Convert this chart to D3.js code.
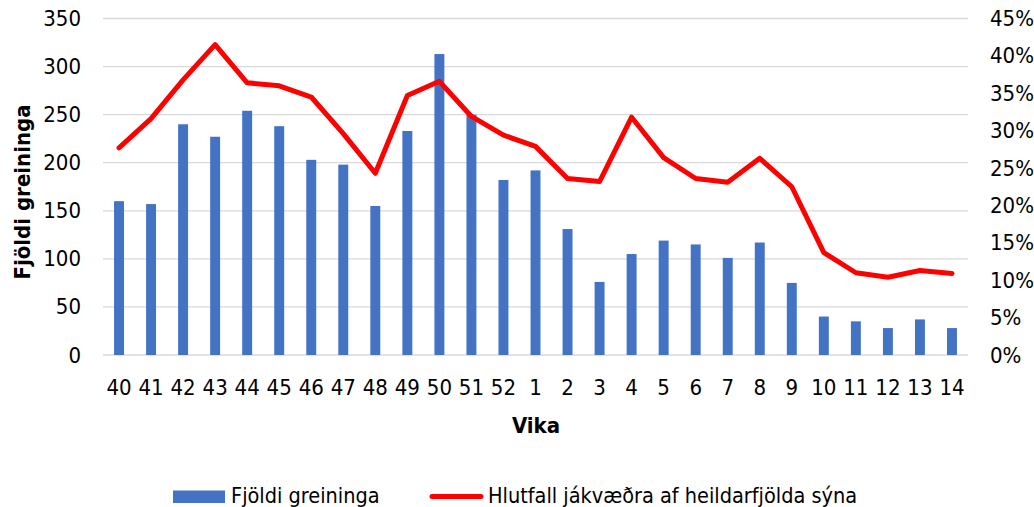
<!DOCTYPE html>
<html>
<head>
<meta charset="utf-8">
<script src="https://cdn.jsdelivr.net/npm/d3@7"></script>
<style>
  body { margin: 0; background: #fff; }
  text { font-family: "Liberation Sans Narrow", "DejaVu Sans Condensed", Lato, sans-serif; fill: #000; }
</style>
</head>
<body>
<div id="chart"></div>
<script>
// data
var weeks = ["40","41","42","43","44","45","46","47","48","49","50","51","52",
             "1","2","3","4","5","6","7","8","9","10","11","12","13","14"];
var counts = [160,157,240,227,254,238,203,198,155,233,313,250,182,
              192,131,76,105,119,115,101,117,75,40,35,28,37,28];
var positiveShare = [27.7,31.6,36.8,41.5,36.4,36.0,34.5,29.6,24.3,34.7,36.6,31.9,29.4,
                     27.9,23.6,23.2,31.8,26.4,23.6,23.1,26.3,22.5,13.7,11.0,10.4,11.3,10.9];
var leftTicks = [0,50,100,150,200,250,300,350];
var rightTicks = [0,5,10,15,20,25,30,35,40,45];

var W = 1034, H = 507;
var margin = {top: 18.5, right: 66, bottom: 152, left: 103};
var width = W - margin.left - margin.right,
    height = H - margin.top - margin.bottom;

var svg = d3.select("#chart").append("svg")
    .attr("width", W).attr("height", H);
var g = svg.append("g")
    .attr("transform", "translate(" + margin.left + "," + margin.top + ")");

var x = d3.scaleBand().domain(weeks).range([0, width]).paddingInner(0.69).paddingOuter(0.345);
var y = d3.scaleLinear().domain([0, 350]).range([height, 0]);
var y2 = d3.scaleLinear().domain([0, 45]).range([height, 0]);

// gridlines
g.selectAll(".grid").data(leftTicks).enter().append("line")
    .attr("x1", 0).attr("x2", width)
    .attr("y1", d => y(d)).attr("y2", d => y(d))
    .style("stroke", "#d9d9d9").style("stroke-width", 1.3);

// left axis
var yAxis = g.append("g").call(d3.axisLeft(y).tickValues(leftTicks).tickSize(0).tickPadding(22));
yAxis.select(".domain").remove();
yAxis.selectAll("text").style("font-size", "22px");

// right axis
var y2Axis = g.append("g").attr("transform", "translate(" + width + ",0)")
    .call(d3.axisRight(y2).tickValues(rightTicks).tickFormat(d => d + "%").tickSize(0).tickPadding(22));
y2Axis.select(".domain").remove();
y2Axis.selectAll("text").style("font-size", "22px");

// x axis
var xAxis = g.append("g").attr("transform", "translate(0," + height + ")")
    .call(d3.axisBottom(x).tickSize(0).tickPadding(24));
xAxis.select(".domain").remove();
xAxis.selectAll("text").style("font-size", "22px");

// bars
g.selectAll(".bar").data(counts).enter().append("rect")
    .attr("x", (d, i) => x(weeks[i]))
    .attr("width", x.bandwidth())
    .attr("y", d => y(d))
    .attr("height", d => height - y(d))
    .style("fill", "#4472c4");

// line
var line = d3.line()
    .x((d, i) => x(weeks[i]) + x.bandwidth() / 2)
    .y(d => y2(d));
g.append("path").datum(positiveShare)
    .attr("d", line)
    .style("fill", "none")
    .style("stroke", "#ff0000")
    .style("stroke-width", 5)
    .style("stroke-linejoin", "round")
    .style("stroke-linecap", "round");

// axis titles
svg.append("text")
    .attr("transform", "translate(30,192) rotate(-90)")
    .attr("text-anchor", "middle")
    .style("font-size", "22px").style("font-weight", "bold")
    .text("Fjöldi greininga");
svg.append("text")
    .attr("x", 536).attr("y", 433)
    .attr("text-anchor", "middle")
    .style("font-size", "22px").style("font-weight", "bold")
    .text("Vika");

// legend
var legend = svg.append("g");
legend.append("rect").attr("x", 173).attr("y", 490.5).attr("width", 52).attr("height", 12.5)
    .style("fill", "#4472c4");
legend.append("text").attr("x", 231).attr("y", 503).style("font-size", "21.5px")
    .text("Fjöldi greininga");
legend.append("line").attr("x1", 432).attr("x2", 481).attr("y1", 496.5).attr("y2", 496.5)
    .style("stroke", "#ff0000").style("stroke-width", 5).style("stroke-linecap", "round");
legend.append("text").attr("x", 488).attr("y", 503).style("font-size", "21.5px")
    .text("Hlutfall jákvæðra af heildarfjölda sýna");
</script>
</body>
</html>
